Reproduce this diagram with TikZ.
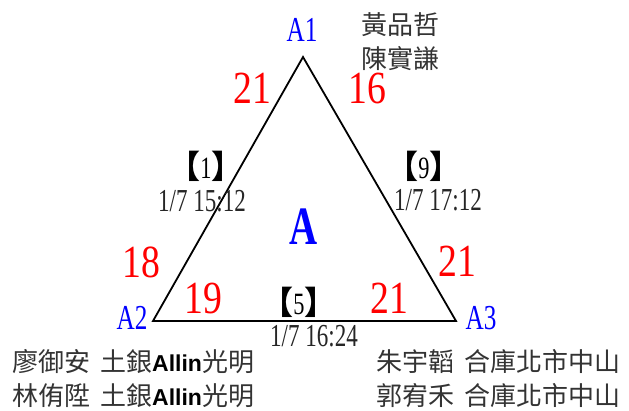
\documentclass[tikz,border=0pt]{standalone}
\usepackage{fontspec}
\setmainfont{Liberation Serif}[FakeStretch=0.72]
\newfontfamily\scorefont{Liberation Serif}[FakeStretch=0.82]
\newfontfamily\cjk{Noto Sans CJK TC}
\newfontfamily\cjkpunct{Noto Sans CJK TC}[RawFeature=+halt]
\newfontfamily\allinfont{Liberation Sans}
\newcommand{\tagno}[1]{{\cjkpunct\bfseries\fontsize{32}{32}\selectfont 【}#1{\cjkpunct\bfseries\fontsize{32}{32}\selectfont 】}}
\newcommand{\allin}{{\allinfont\bfseries\fontsize{23}{23}\selectfont\color{black}Allin}}

\begin{document}
\begin{tikzpicture}[x=1pt,y=-1pt]
  \tikzstyle{corner}=[text=blue,inner sep=0pt,font=\fontsize{35}{35}\selectfont]
  \tikzstyle{score}=[text=red,inner sep=0pt,font=\scorefont\fontsize{46}{46}\selectfont]
  \tikzstyle{gameno}=[inner sep=0pt,font=\fontsize{31}{31}\selectfont]
  \tikzstyle{gametime}=[inner sep=0pt,text=black!85,font=\fontsize{32}{32}\selectfont]
  \tikzstyle{team}=[inner sep=0pt,anchor=west,text=black!80,
    font=\cjk\fontsize{26}{26}\selectfont]
  \useasboundingbox (0,0) rectangle (629,410);
  % triangle
  \coordinate (p1) at (303,57);
  \coordinate (p2) at (153,321);
  \coordinate (p3) at (456,321);
  \draw[line width=1.8pt] (p1) -- (p2) -- (p3) -- cycle;
  \node[text=blue,inner sep=0pt,font=\bfseries\fontsize{54}{54}\selectfont] (grp) at (304,227) {A};
  % corners
  \node[corner] (a1) at (302,30) {A1};
  \node[corner] (a2) at (132,318) {A2};
  \node[corner] (a3) at (481,318) {A3};
  % scores
  \node[score] (s12) at (252,88) {21};
  \node[score] (s13) at (367,88) {16};
  \node[score] (s21) at (141,262) {18};
  \node[score] (s23) at (203,298) {19};
  \node[score] (s31) at (457,261) {21};
  \node[score] (s32) at (389,298) {21};
  % games
  \node[gameno] (g1) at (206,166) {\tagno{1}};
  \node[gametime] (t1) at (202,201) {1/7 15:12};
  \node[gameno] (g9) at (424,166) {\tagno{9}};
  \node[gametime] (t9) at (438,200) {1/7 17:12};
  \node[gameno] (g5) at (299,302) {\tagno{5}};
  \node[gametime] (t5) at (314,336) {1/7 16:24};
  % teams
  \node[team] (n11) at (361,25) {黃品哲};
  \node[team] (n12) at (361,59) {陳實謙};
  \node[team] (n21) at (12,362) {廖御安\hspace{10pt}土銀\allin 光明};
  \node[team] (n22) at (12,396) {林侑陞\hspace{10pt}土銀\allin 光明};
  \node[team] (n31) at (376,362) {朱宇韜\hspace{10pt}合庫北市中山};
  \node[team] (n32) at (376,396) {郭宥禾\hspace{10pt}合庫北市中山};
\end{tikzpicture}
\end{document}
